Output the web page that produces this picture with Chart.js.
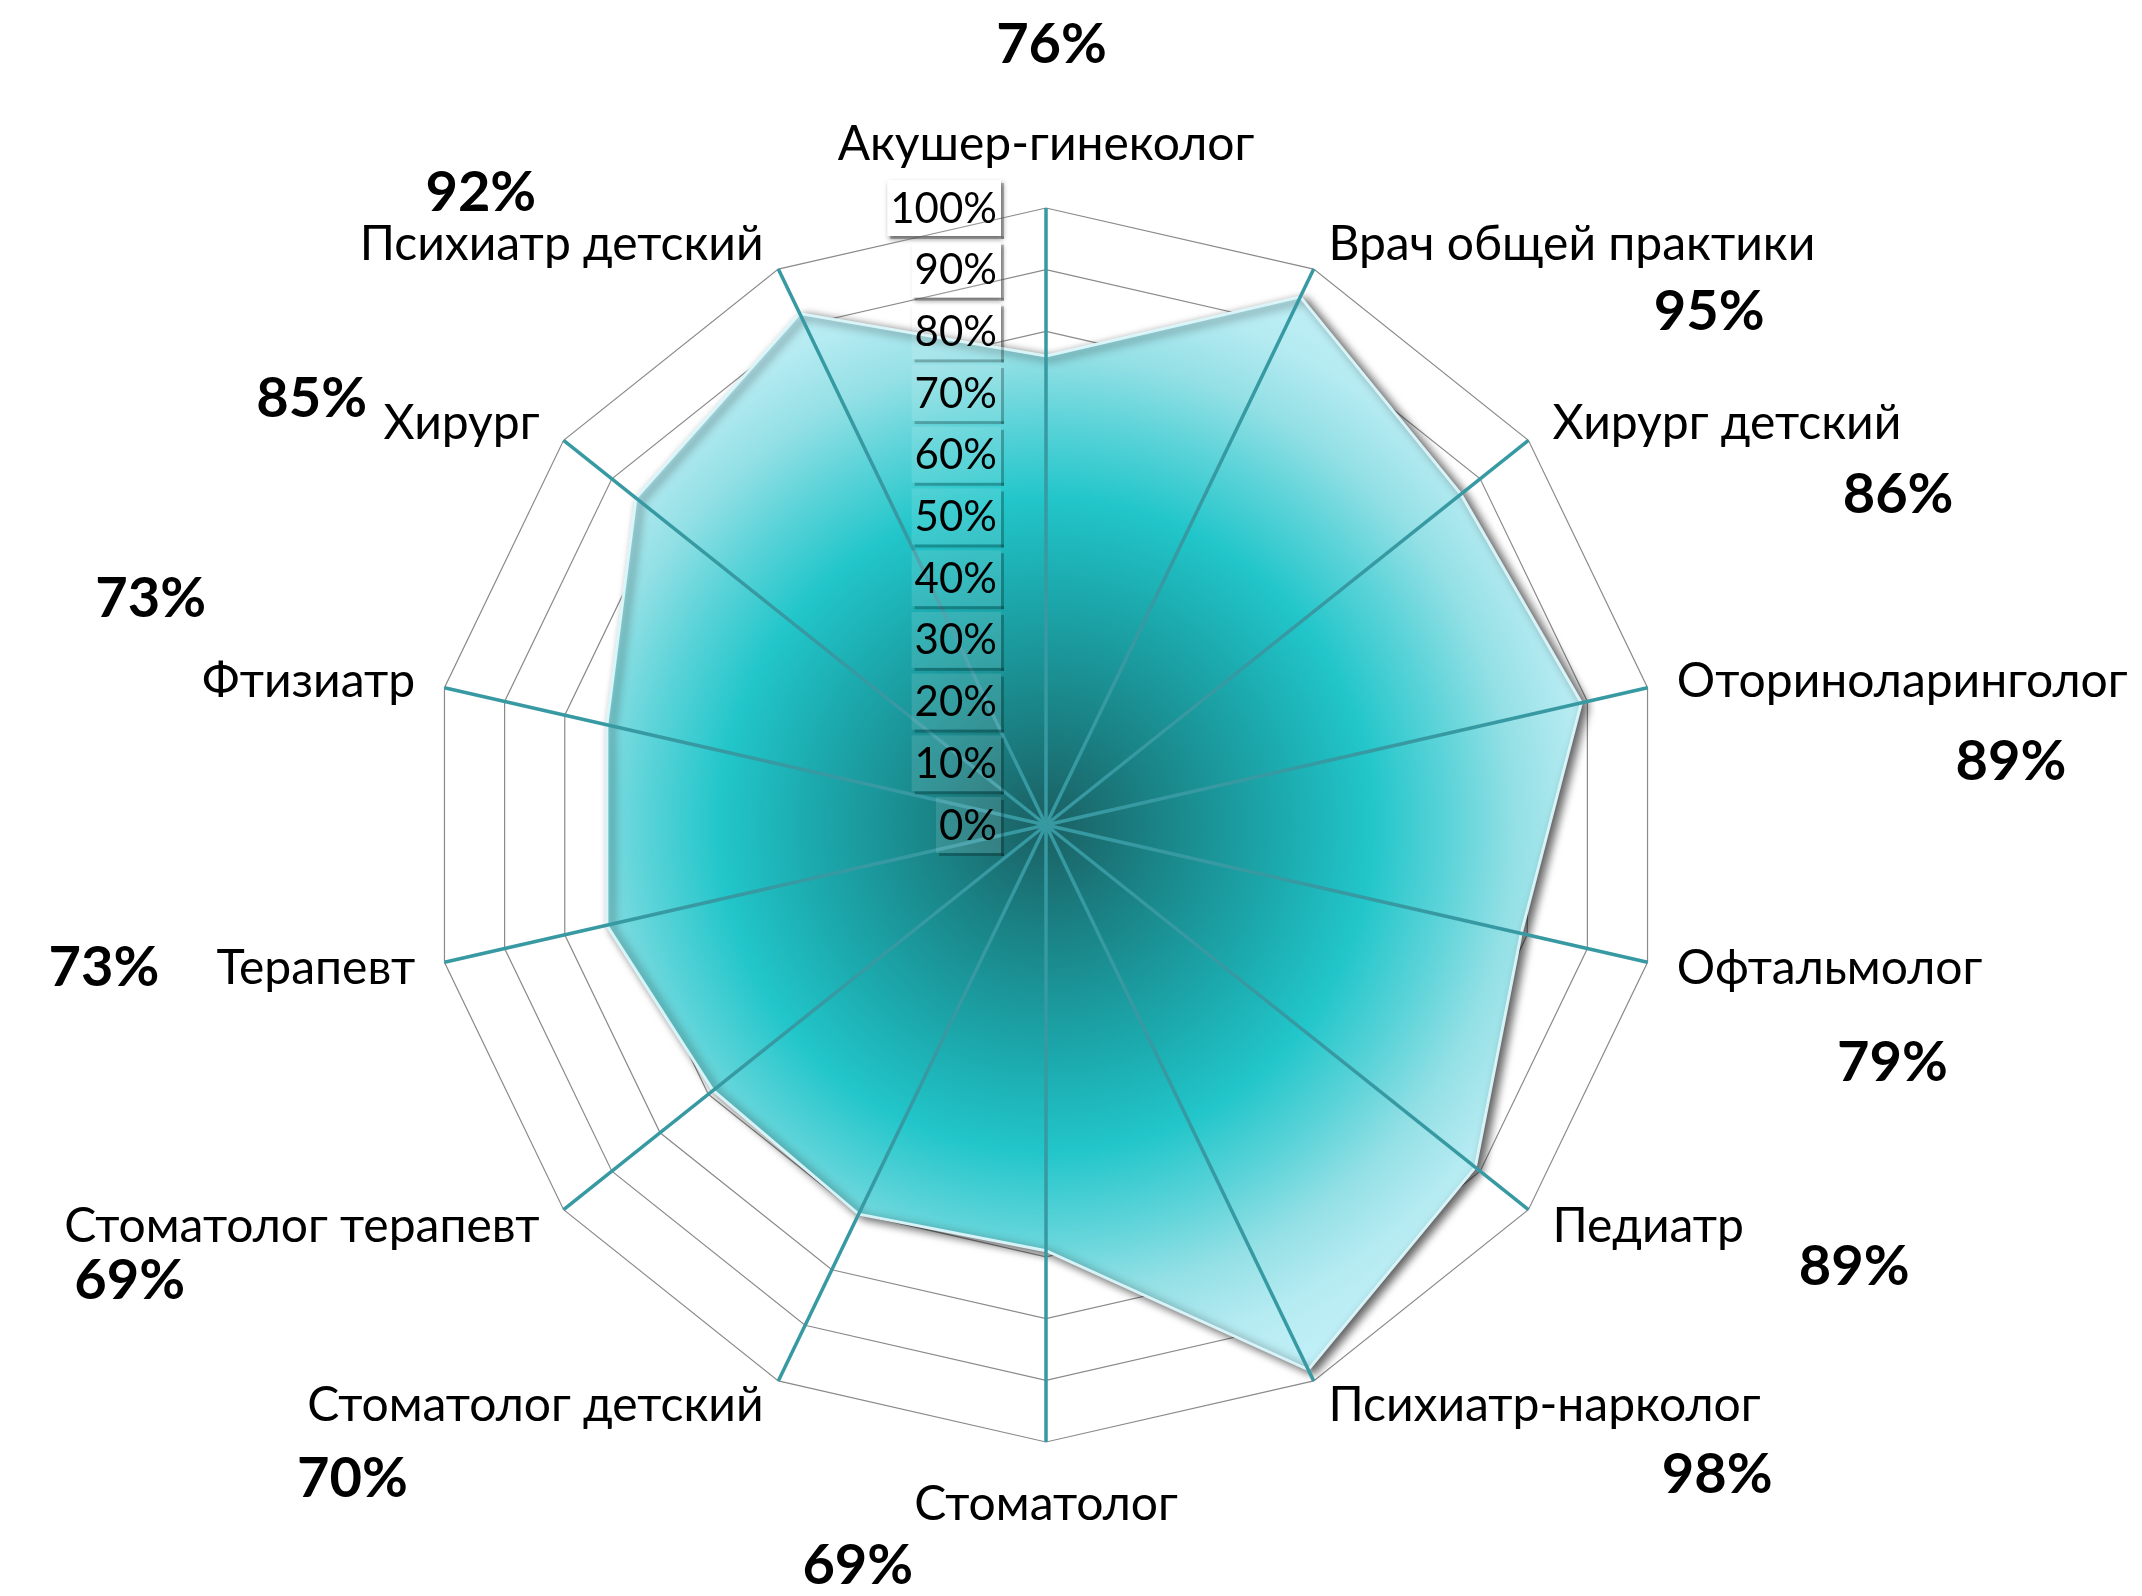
<!DOCTYPE html>
<html>
<head>
<meta charset="utf-8">
<title>Radar</title>
<script src="https://cdn.jsdelivr.net/npm/chart.js"></script>
<style>
    body { margin: 0; background: #ffffff; }
    #wrap { width: 2142px; height: 1596px; }
</style>
</head>
<body>
<div id="wrap"><canvas id="chart"></canvas></div>
<script>
    // Chart data
    const categories = [
        'Акушер-гинеколог', 'Врач общей практики', 'Хирург детский', 'Оториноларинголог',
        'Офтальмолог', 'Педиатр', 'Психиатр-нарколог', 'Стоматолог', 'Стоматолог детский',
        'Стоматолог терапевт', 'Терапевт', 'Фтизиатр', 'Хирург', 'Психиатр детский'
    ];
    const values = [76, 95, 86, 89, 79, 89, 98, 69, 70, 69, 73, 73, 85, 92];
    const tickValues = [0, 10, 20, 30, 40, 50, 60, 70, 80, 90, 100];
    const tickLabels = ['0%', '10%', '20%', '30%', '40%', '50%', '60%', '70%', '80%', '90%', '100%'];

    // where the bold value labels sit, relative to the centre, in radii
    const valueLabelPos = [
        [0.009, -1.265], [1.075, -0.832], [1.381, -0.535], [1.564, -0.102],
        [1.372, 0.385], [1.310, 0.717], [1.088, 1.053], [-0.305, 1.201],
        [-1.124, 1.060], [-1.485, 0.739], [-1.527, 0.232], [-1.451, -0.367],
        [-1.190, -0.690], [-0.916, -1.024]
    ];

    const FONT = 'Lato, "Open Sans", sans-serif';
    const TICK_FONT = '42px ' + FONT;

    // boxes behind tick labels
    function tickBox(ctx, s, i) {
        const y = s.yCenter - s.getDistanceFromCenterForValue(tickValues[i]);
        const w = ctx.measureText(tickLabels[i]).width;
        const right = s.xCenter - 47;
        return { x: right - w - 5, y: y - 28, w: w + 7, h: 56 };
    }

    const decor = {
        id: 'decor',
        beforeDraw(chart) {
            const s = chart.scales.r, ctx = chart.ctx;
            ctx.save();
            ctx.font = TICK_FONT;
            ctx.fillStyle = '#ffffff';
            ctx.shadowColor = 'rgba(0,0,0,0.45)';
            ctx.shadowBlur = 5;
            ctx.shadowOffsetX = 2;
            ctx.shadowOffsetY = 3;
            tickValues.forEach((v, i) => {
                const b = tickBox(ctx, s, i);
                ctx.fillRect(b.x, b.y, b.w, b.h);
            });
            ctx.restore();
        },
        beforeDatasetsDraw(chart) {
            const ctx = chart.ctx;
            ctx.save();
            ctx.shadowColor = 'rgba(0,0,0,0.65)';
            ctx.shadowBlur = 10;
            ctx.shadowOffsetX = 5;
            ctx.shadowOffsetY = 3;
        },
        afterDatasetsDraw(chart) {
            const s = chart.scales.r, ctx = chart.ctx;
            ctx.restore();
            ctx.save();

            // spokes on top of the fill
            ctx.strokeStyle = '#3799a2';
            ctx.lineWidth = 3.5;
            categories.forEach((c, i) => {
                const p = s.getPointPosition(i, s.drawingArea);
                ctx.beginPath();
                ctx.moveTo(s.xCenter, s.yCenter);
                ctx.lineTo(p.x, p.y);
                ctx.stroke();
            });

            // tick boxes seen through the fill + labels
            ctx.font = TICK_FONT;
            tickValues.forEach((v, i) => {
                const b = tickBox(ctx, s, i);
                ctx.fillStyle = 'rgba(255,255,255,0.12)';
                ctx.fillRect(b.x, b.y, b.w, b.h);
                ctx.fillStyle = 'rgba(0,0,0,0.25)';
                ctx.fillRect(b.x + 3, b.y + b.h, b.w, 3);
                ctx.fillRect(b.x + b.w, b.y + 3, 3, b.h);
            });
            ctx.fillStyle = '#000000';
            ctx.textAlign = 'right';
            ctx.textBaseline = 'middle';
            tickValues.forEach((v, i) => {
                const y = s.yCenter - s.getDistanceFromCenterForValue(v);
                ctx.fillText(tickLabels[i], s.xCenter - 49, y + 1);
            });

            // category labels
            ctx.font = '48px ' + FONT;
            categories.forEach((c, i) => {
                const ang = s.getIndexAngle(i);
                const sin = Math.sin(ang), cos = Math.cos(ang);
                const p = s.getPointPosition(i, s.drawingArea + 27);
                let x = p.x, y = p.y;
                if (Math.abs(sin) < 0.05) {
                    ctx.textAlign = 'center';
                    y -= cos * 36;
                } else {
                    ctx.textAlign = sin > 0 ? 'left' : 'right';
                    x += sin > 0 ? 3 : -3;
                }
                ctx.fillText(c, x, y);
            });

            // value labels
            ctx.font = 'bold 56px ' + FONT;
            ctx.textAlign = 'center';
            values.forEach((v, i) => {
                const o = valueLabelPos[i];
                ctx.fillText(v + '%', s.xCenter + o[0] * s.drawingArea, s.yCenter + o[1] * s.drawingArea);
            });
            ctx.restore();
        }
    };

    const ctx = document.getElementById('chart').getContext('2d');
    new Chart(ctx, {
        type: 'radar',
        data: {
            labels: categories,
            datasets: [{
                data: values,
                fill: true,
                backgroundColor: function(c) {
                    const s = c.chart.scales.r;
                    if (!s || !s.drawingArea) return '#22c4c8';
                    const g = c.chart.ctx.createRadialGradient(s.xCenter, s.yCenter, 0, s.xCenter, s.yCenter, s.drawingArea);
                    g.addColorStop(0, '#1b5f62');
                    g.addColorStop(0.2, '#1a878a');
                    g.addColorStop(0.4, '#1cadb1');
                    g.addColorStop(0.53, '#22c6ca');
                    g.addColorStop(0.65, '#5ad3d8');
                    g.addColorStop(0.76, '#93e0e5');
                    g.addColorStop(0.87, '#b6ebf2');
                    g.addColorStop(1, '#c4f1f9');
                    return g;
                },
                borderColor: 'rgba(220,248,252,0.95)',
                borderWidth: 3,
                pointRadius: 0,
                pointHoverRadius: 0
            }]
        },
        options: {
            responsive: true,
            maintainAspectRatio: false,
            animation: false,
            layout: { padding: { left: 429, right: 479, top: 208, bottom: 154 } },
            plugins: {
                legend: { display: false },
                tooltip: { enabled: false }
            },
            scales: {
                r: {
                    min: 0,
                    max: 100,
                    ticks: { display: false, stepSize: 10 },
                    grid: { color: '#8a8a8a', lineWidth: 1.2 },
                    angleLines: { display: false },
                    pointLabels: { display: false }
                }
            }
        },
        plugins: [decor]
    });
</script>
</body>
</html>
